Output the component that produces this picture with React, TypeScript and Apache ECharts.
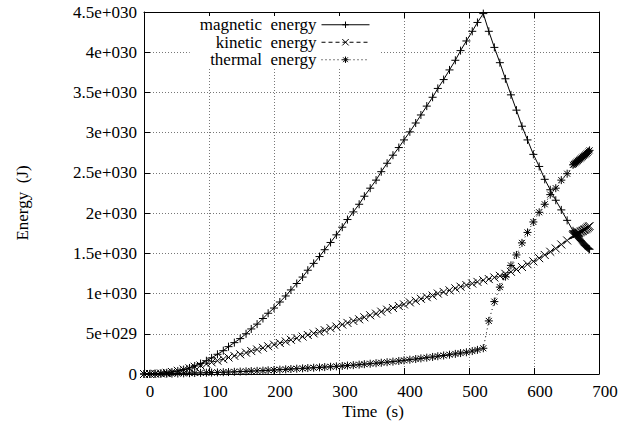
import React, { useEffect, useRef } from "react";
import * as echarts from "echarts";

// Time (s)
const TIME = [
  0, 9, 17, 26, 35, 43, 52, 61, 70, 78, 87, 96, 104, 113, 122, 130, 139, 148, 157, 165,
  174, 183, 191, 200, 209, 218, 226, 235, 244, 252, 261, 270, 278, 287, 296, 305, 313, 322,
  331, 339, 348, 357, 365, 374, 383, 392, 400, 409, 418, 426, 435, 444, 452, 461, 470, 479,
  487, 496, 505, 513, 522,
  530.5, 539, 547.5, 556, 564.5, 573, 581.5, 590, 599, 608, 616.5, 625, 633.5, 642, 651, 660,
  661.5, 663, 664.5, 666, 667.5, 669, 670.5, 672, 673.5, 675, 676.5, 678, 679.5, 681, 682.5,
  684, 685.5,
];

// Energies in units of 1e30 J
const MAGNETIC = [
  0, 0.002, 0.005, 0.01, 0.015, 0.025, 0.038, 0.055, 0.075, 0.1, 0.13, 0.165, 0.2, 0.245,
  0.29, 0.34, 0.39, 0.44, 0.5, 0.56, 0.62, 0.69, 0.755, 0.82, 0.895, 0.97, 1.045, 1.125,
  1.205, 1.29, 1.375, 1.46, 1.545, 1.635, 1.73, 1.825, 1.92, 2.015, 2.11, 2.21, 2.31, 2.41,
  2.515, 2.62, 2.72, 2.815, 2.91, 3.01, 3.12, 3.22, 3.33, 3.44, 3.55, 3.66, 3.78, 3.9, 4.02,
  4.14, 4.26, 4.37, 4.48,
  4.26, 4.06, 3.87, 3.67, 3.47, 3.28, 3.08, 2.91, 2.73, 2.58, 2.42, 2.29, 2.16, 2.04, 1.91, 1.78,
  1.765, 1.75, 1.735, 1.72, 1.705, 1.69, 1.675, 1.66, 1.645, 1.63, 1.615, 1.6, 1.59, 1.58,
  1.57, 1.56, 1.55,
];

const KINETIC = [
  0, 0.001, 0.003, 0.007, 0.015, 0.025, 0.04, 0.055, 0.07, 0.09, 0.105, 0.125, 0.145, 0.165,
  0.185, 0.205, 0.225, 0.245, 0.265, 0.285, 0.305, 0.325, 0.345, 0.365, 0.385, 0.405, 0.425,
  0.445, 0.465, 0.485, 0.505, 0.525, 0.545, 0.57, 0.59, 0.615, 0.635, 0.66, 0.68, 0.705,
  0.73, 0.75, 0.775, 0.8, 0.82, 0.845, 0.865, 0.89, 0.91, 0.935, 0.955, 0.975, 1.0, 1.02,
  1.04, 1.065, 1.085, 1.105, 1.125, 1.145, 1.165,
  1.18, 1.2, 1.22, 1.245, 1.27, 1.3, 1.33, 1.365, 1.4, 1.44, 1.48, 1.52, 1.56, 1.61, 1.66, 1.72,
  1.725, 1.73, 1.735, 1.74, 1.75, 1.755, 1.76, 1.77, 1.775, 1.78, 1.79, 1.795, 1.8, 1.81,
  1.82, 1.83, 1.84,
];

const THERMAL = [
  0, 0, 0.001, 0.002, 0.003, 0.004, 0.006, 0.008, 0.01, 0.012, 0.014, 0.016, 0.018, 0.02,
  0.022, 0.024, 0.027, 0.03, 0.033, 0.036, 0.039, 0.042, 0.046, 0.05, 0.054, 0.058, 0.062,
  0.066, 0.07, 0.074, 0.078, 0.082, 0.086, 0.09, 0.095, 0.1, 0.105, 0.11, 0.116, 0.122,
  0.128, 0.134, 0.14, 0.147, 0.154, 0.162, 0.17, 0.178, 0.186, 0.194, 0.203, 0.212, 0.221,
  0.23, 0.24, 0.25, 0.26, 0.27, 0.285, 0.3, 0.32,
  0.66, 0.9, 1.08, 1.21, 1.35, 1.48, 1.63, 1.76, 1.89, 2.01, 2.11, 2.23, 2.31, 2.41, 2.49, 2.6,
  2.61, 2.62, 2.63, 2.64, 2.65, 2.66, 2.67, 2.68, 2.69, 2.7, 2.71, 2.72, 2.73, 2.74, 2.75,
  2.765, 2.78,
];

const SERIES_NAMES = ["magnetic  energy", "kinetic  energy", "thermal  energy"];
const X_TICKS = ["0", "100", "200", "300", "400", "500", "600", "700"];
const Y_TICKS = [
  "0", "5e+029", "1e+030", "1.5e+030", "2e+030", "2.5e+030", "3e+030", "3.5e+030", "4e+030",
  "4.5e+030",
];

const FONT = "Liberation Serif";

const SYM_PLUS = "path://M0,4L8,4M4,0L4,8";
const SYM_CROSS = "path://M0,0L8,8M8,0L0,8";
const SYM_STAR = "path://M0,4L8,4M4,0L4,8M1,1L7,7M7,1L1,7";

function zip(values: number[]) {
  return TIME.map((t, i) => [t, values[i]]);
}

export default function App() {
  const ref = useRef<HTMLDivElement>(null);

  useEffect(() => {
    if (!ref.current) return;
    const chart = echarts.init(ref.current, null, { renderer: "svg" });

    const mkSeries = (name: string, vals: number[], symbol: string, dash: any) => ({
      name,
      type: "line",
      data: zip(vals),
      symbol,
      symbolSize: 8,
      showSymbol: true,
      showAllSymbol: true,
      xAxisIndex: 0,
      yAxisIndex: 0,
      lineStyle: { color: "#000", width: 1, type: dash },
      itemStyle: { color: "#000", borderColor: "#000", borderWidth: 1 },
      emphasis: { disabled: true },
      z: 3,
    });

    const tickCommon = { show: true, inside: true, length: 6, lineStyle: { color: "#000", width: 1 } };
    const axisLineCommon = { show: true, onZero: false, lineStyle: { color: "#000", width: 1 } };
    const gridLine = { show: true, lineStyle: { color: "#777", width: 1, type: [1, 2] } };

    chart.setOption({
      animation: false,
      backgroundColor: "#fff",
      textStyle: { fontFamily: FONT },
      grid: { left: 144, top: 12, width: 455, height: 362, containLabel: false },
      xAxis: [
        {
          type: "value",
          min: 0,
          max: 700,
          interval: 100,
          position: "bottom",
          axisLine: axisLineCommon,
          axisTick: tickCommon,
          splitLine: gridLine,
          axisLabel: {
            margin: 9,
            color: "#000",
            fontFamily: FONT,
            fontSize: 17,
            padding: [0, 0, 0, 12],
            formatter: (v: number) => X_TICKS[Math.round(v / 100)] ?? "",
          },
        },
        {
          type: "value",
          min: 0,
          max: 700,
          interval: 100,
          position: "top",
          axisLine: axisLineCommon,
          axisTick: tickCommon,
          splitLine: { show: false },
          axisLabel: { show: false },
        },
      ],
      yAxis: [
        {
          type: "value",
          min: 0,
          max: 4.5,
          interval: 0.5,
          position: "left",
          axisLine: axisLineCommon,
          axisTick: tickCommon,
          splitLine: gridLine,
          axisLabel: {
            margin: 7,
            color: "#000",
            fontFamily: FONT,
            fontSize: 17,
            formatter: (v: number) => Y_TICKS[Math.round(v / 0.5)] ?? "",
          },
        },
        {
          type: "value",
          min: 0,
          max: 4.5,
          interval: 0.5,
          position: "right",
          axisLine: axisLineCommon,
          axisTick: tickCommon,
          splitLine: { show: false },
          axisLabel: { show: false },
        },
      ],
      legend: {
        show: true,
        orient: "vertical",
        align: "right",
        right: 258,
        top: 16,
        padding: [0, 10, 0, 10],
        backgroundColor: "#fff",
        itemWidth: 48,
        itemHeight: 8,
        itemGap: 0,
        selectedMode: false,
        lineStyle: { width: 1 },
        itemStyle: { borderWidth: 1 },
        textStyle: { color: "#000", fontFamily: FONT, fontSize: 17, lineHeight: 17.5 },
        data: SERIES_NAMES,
      },
      series: [
        mkSeries(SERIES_NAMES[0], MAGNETIC, SYM_PLUS, "solid"),
        mkSeries(SERIES_NAMES[1], KINETIC, SYM_CROSS, [4, 3]),
        mkSeries(SERIES_NAMES[2], THERMAL, SYM_STAR, [1, 3]),
      ],
      graphic: [
        {
          type: "text",
          x: 22,
          y: 203,
          rotation: Math.PI / 2,
          style: {
            text: "Energy  (J)",
            fontFamily: FONT,
            fontSize: 17,
            fill: "#000",
            textAlign: "center",
            textVerticalAlign: "middle",
          },
        },
        {
          type: "text",
          x: 373,
          y: 411,
          style: {
            text: "Time  (s)",
            fontFamily: FONT,
            fontSize: 17,
            fill: "#000",
            textAlign: "center",
            textVerticalAlign: "middle",
          },
        },
      ],
    });

    return () => chart.dispose();
  }, []);

  return (
    <div
      ref={ref}
      style={{ position: "absolute", left: 0, top: 0, width: 638, height: 430 }}
    />
  );
}
